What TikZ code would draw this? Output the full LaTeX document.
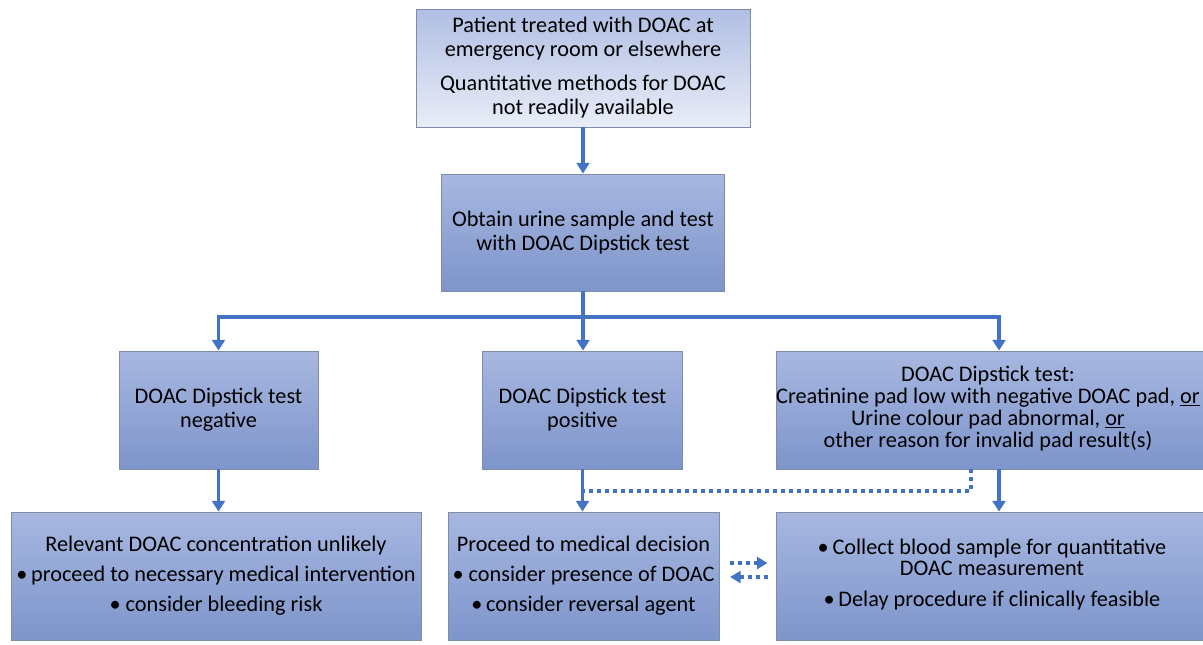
\documentclass[tikz,border=0pt]{standalone}
\usepackage{fontspec}
\setmainfont{Carlito}
\usetikzlibrary{arrows.meta}
\renewcommand{\arraystretch}{0.86}
\definecolor{linkblue}{HTML}{4472C4}
\definecolor{boxtop}{HTML}{A7B7E0}
\definecolor{boxbot}{HTML}{7E95CB}
\definecolor{boxlight}{HTML}{E9EDF7}
\definecolor{boxedge}{HTML}{7F8CA8}
\begin{document}
\begin{tikzpicture}[x=0.75pt,y=-0.75pt,
    box/.style={draw=boxedge,line width=0.6pt,top color=boxtop,bottom color=boxbot,
        inner sep=0pt,align=center,font=\fontsize{16.7}{18}\selectfont},
    startbox/.style={box,top color=boxtop!90!white,bottom color=boxlight},
    link/.style={draw=linkblue,line width=2.4pt},
    arrow/.style={link,-{Triangle[length=8pt,width=9.5pt]}},
    dotlink/.style={draw=linkblue,line width=2.4pt,dash pattern=on 3pt off 3pt},
    dotarrow/.style={dotlink,-{Triangle[length=8pt,width=9pt]}}]
        \useasboundingbox (0,0) rectangle (1203,644);

        \node[startbox,minimum width=250.5pt,minimum height=88.5pt] (patient) at (583,68)
            {Patient treated with DOAC at\\emergency room or elsewhere\\[7.5pt]
             Quantitative methods for DOAC\\not readily available};
        \node[box,minimum width=212.25pt,minimum height=87.75pt] (urine) at (583,232.5)
            {Obtain urine sample and test\\with DOAC Dipstick test};

        \node[box,minimum width=149.25pt,minimum height=88.5pt] (neg) at (218.5,410)
            {DOAC Dipstick test\\negative};
        \node[box,minimum width=150pt,minimum height=88.5pt] (pos) at (582.5,410)
            {DOAC Dipstick test\\positive};
        % right column boxes run off the page, text kept left of centre
        \node[box,minimum width=333pt,minimum height=88.5pt] (invalid) at (998,410)
            {\begin{tabular}{@{}c@{\hspace{15pt}}}
             DOAC Dipstick test:\\Creatinine pad low with negative DOAC pad, \underline{or}\\
             Urine colour pad abnormal, \underline{or}\\other reason for invalid pad result(s)
             \end{tabular}};

        \node[box,minimum width=307.5pt,minimum height=96pt] (unlikely) at (216,576)
            {Relevant DOAC concentration unlikely\\[4.5pt]
             •\,proceed to necessary medical intervention\\[4.5pt]
             • consider bleeding risk};
        \node[box,minimum width=333pt,minimum height=96pt] (blood) at (998,576)
            {\begin{tabular}{@{}c@{\hspace{9pt}}}
             •\,Collect blood sample for quantitative\\
             DOAC measurement\\[7pt]
             •\,Delay procedure if clinically feasible
             \end{tabular}};
        \node[box,minimum width=203.25pt,minimum height=96pt] (decision) at (583.5,576)
            {Proceed to medical decision\\[4.5pt]
             • consider presence of DOAC\\[4.5pt]
             •\,consider reversal agent};

        % main flow
        \coordinate (fork) at (583,317);
        \coordinate (rightline) at (999,317);
        \draw[arrow] (patient.south) -- (urine.north);
        \draw[link] (urine.south) -- (fork);
        \draw[arrow] (fork) -| (neg.north);
        \draw[arrow] (fork) -- (fork |- pos.north);
        \draw[arrow] (fork) -- (rightline) -- (rightline |- invalid.north);

        \draw[arrow] (neg.south) -- (unlikely.north -| neg.south);
        \draw[arrow] (pos.south) -- (decision.north -| pos.south);
        \draw[arrow] (rightline |- invalid.south) -- (rightline |- blood.north);

        % dotted links
        \coordinate (dotcorner) at (971,491);
        \draw[dotlink] (dotcorner |- invalid.south) -- (dotcorner) -- (dotcorner -| pos.south);
        \draw[dotarrow] ([xshift=8pt,yshift=9.75pt]decision.east) -- ([xshift=-6pt,yshift=9.75pt]blood.west);
        \draw[dotarrow] ([xshift=-6pt,yshift=-0.75pt]blood.west) -- ([xshift=8pt,yshift=-0.75pt]decision.east);
\end{tikzpicture}
\end{document}
